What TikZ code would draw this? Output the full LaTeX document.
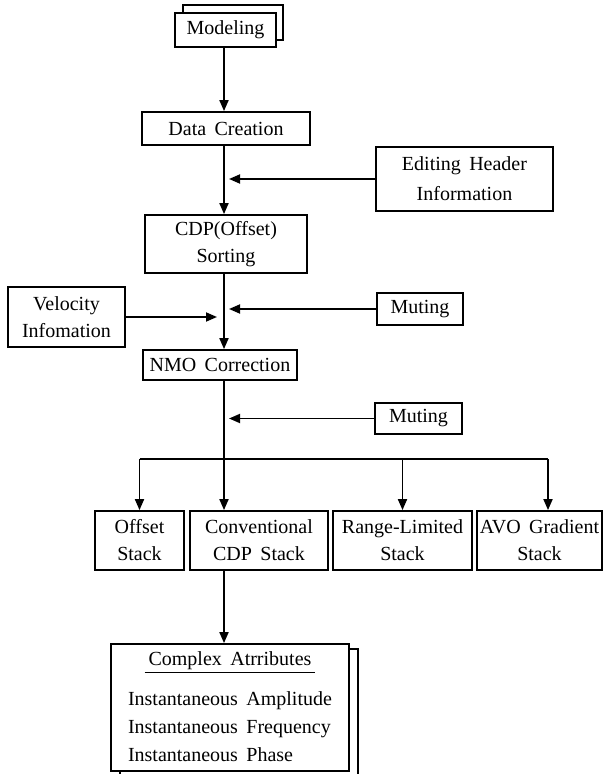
\documentclass[tikz,border=0pt]{standalone}
\usepackage{fontspec}
\setmainfont{Liberation Serif}
\usetikzlibrary{arrows.meta,positioning}
\newcommand{\boxfont}{\fontsize{10}{13.5}\selectfont\spaceskip=0.42em plus 0.1em\relax}
\newcommand{\cplxfont}{\fontsize{10}{14}\selectfont\spaceskip=0.42em plus 0.1em\relax}
\tikzset{
	blk/.style={draw,line width=0.9pt,fill=white,align=center,inner sep=0pt,font=\boxfont},
	sz/.style 2 args={minimum width=#1*0.5pt,minimum height=#2*0.5pt},
	arr/.style={line width=0.9pt,-{Triangle[length=5.5pt,width=4.5pt]}},
}
\begin{document}
\begin{tikzpicture}[x=0.5pt,y=-0.5pt]
	\useasboundingbox (0,0) rectangle (605,774);

	% trunk and tip positions
	\coordinate (trunk) at (224,0);
	\coordinate (tipR) at (229,0);
	\coordinate (tipL) at (217,0);
	\coordinate (split) at (0,459);
	\coordinate (avotap) at (548,459);

	% MODELING
	\node[blk,sz={100}{35}] (modelbk) at (233,22.5) {};
	\node[blk,sz={101}{34}] (model) at (225.5,30) {Modeling};
	\node[blk,sz={168}{33}] (data) at (226,128.5) {Data Creation};
	\node[blk,sz={177}{64}] (edit) at (464.5,179) {Editing Header\\[1.5pt]Information};
	\node[blk,sz={162}{58}] (sort) at (226,244) {CDP(Offset)\\Sorting};

	\draw[arr] (model.south -| trunk) -- (data.north -| trunk);
	\draw[arr] (data.south -| trunk) -- (sort.north -| trunk);
	\draw[arr] (edit.west) -- (edit.west -| tipR);

	% NMO
	\node[blk,sz={117}{60}] (velo) at (66.5,317) {Velocity\\Infomation};
	\node[blk,sz={86}{32}] (mute1) at (420,309) {Muting};
	\node[blk,sz={154}{30}] (nmo) at (220,365) {NMO Correction};
	\node[blk,sz={87}{31}] (mute2) at (418.5,418.5) {Muting};

	\draw[arr] (sort.south -| trunk) -- (nmo.north -| trunk);
	\draw[arr] (velo.east) -- (velo.east -| tipL);
	\draw[arr] (mute1.west) -- (mute1.west -| tipR);
	\draw[arr] (mute2.west) -- (mute2.west -| tipR);

	% STACKS
	\node[blk,sz={89}{59}] (offst) at (139.5,540.5) {Offset\\Stack};
	\node[blk,sz={138}{59}] (conv) at (259,540.5) {Conventional\\CDP Stack};
	\node[blk,sz={139}{59}] (range) at (402.5,540.5) {Range-Limited\\Stack};
	\node[blk,sz={125}{59}] (avo) at (539.5,540.5) {AVO Gradient\\Stack};

	\draw[arr] (nmo.south -| trunk) -- (conv.north -| trunk);
	\draw[line width=0.9pt] (offst.north |- split) -- (avotap);
	\draw[arr] (offst.north |- split) -- (offst.north);
	\draw[arr] (range.north |- split) -- (range.north);
	\draw[arr] (avotap) -- (avotap |- avo.north);

	% ATTRIBUTES
	\node[blk,sz={238}{126}] (cplxbk) at (239,712) {};
	\node[blk,sz={238}{127},font=\cplxfont] (cplx) at (230,707.5)
		{\begin{tabular}{@{}l@{}}
		\multicolumn{1}{@{}c@{}}{\underline{\kern2pt Complex Atrributes\kern2pt}}\\[6pt]
		Instantaneous Amplitude\\
		Instantaneous Frequency\\
		Instantaneous Phase
		\end{tabular}};

	\draw[arr] (conv.south -| trunk) -- (cplx.north -| trunk);
\end{tikzpicture}
\end{document}
